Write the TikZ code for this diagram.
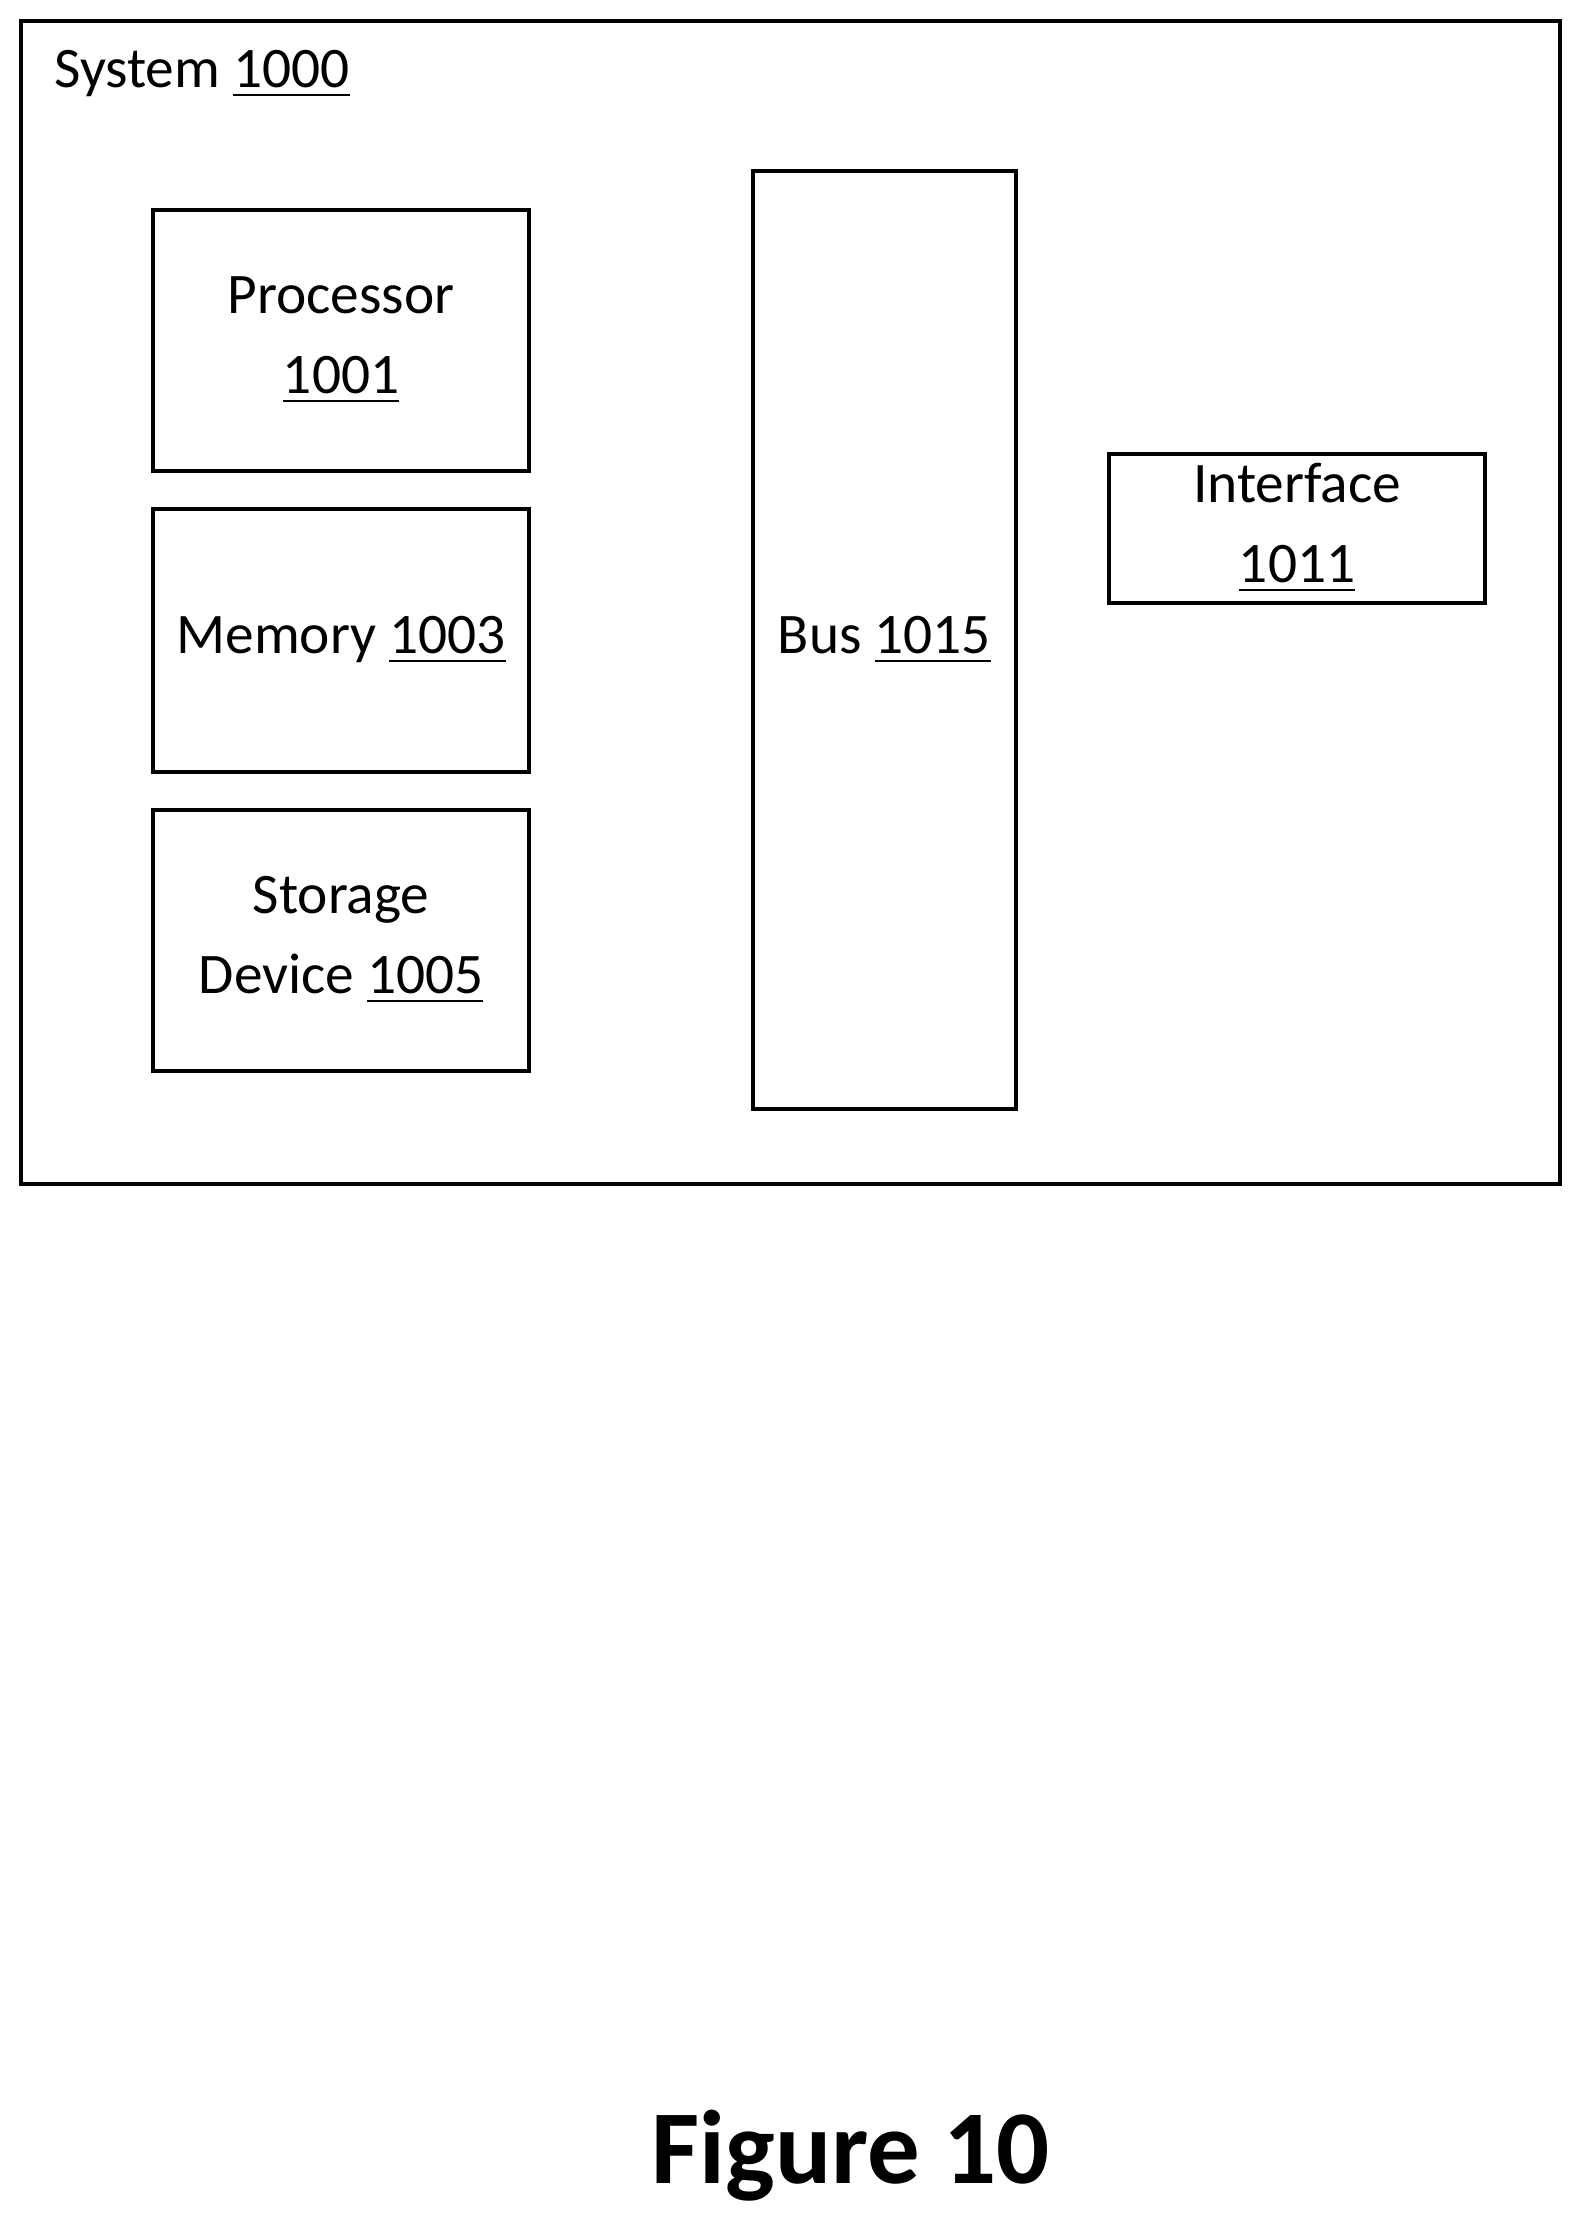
\documentclass[tikz,border=0pt]{standalone}
\usepackage{fontspec}
\setmainfont{Carlito}
\usepackage{tikz}

\begin{document}
\begin{tikzpicture}[x=0.01cm,y=-0.01cm,
  unit/.style={draw,thick,align=center,inner sep=0pt,font=\fontsize{11.5}{16}\selectfont}]
  % Background
  \useasboundingbox (0,0) rectangle (1115,1568);

  \draw[thick] (15,15) rectangle (1100,835);
  \node[anchor=west,font=\fontsize{11.5}{14}\selectfont] (sys) at (26,52) {System \underline{1000}};

  \node[unit,minimum width=2.65cm,minimum height=1.84cm] (proc) at (240.5,240) {Processor\\\underline{1001}};
  \node[unit,minimum width=2.65cm,minimum height=1.85cm] (mem) at (240.5,451.5) {Memory \underline{1003}};
  \node[unit,minimum width=2.65cm,minimum height=1.84cm] (stor) at (240.5,663) {Storage\\Device \underline{1005}};
  \node[unit,minimum width=1.85cm,minimum height=6.61cm] (bus) at (623.5,451.5) {Bus \underline{1015}};
  \node[unit,minimum width=2.65cm,minimum height=1.05cm] (intf) at (914.5,372.5) {Interface\\\underline{1011}};

  \node[font=\fontsize{21}{24}\selectfont\bfseries] (fig) at (600,1520) {Figure 10};
\end{tikzpicture}
\end{document}
